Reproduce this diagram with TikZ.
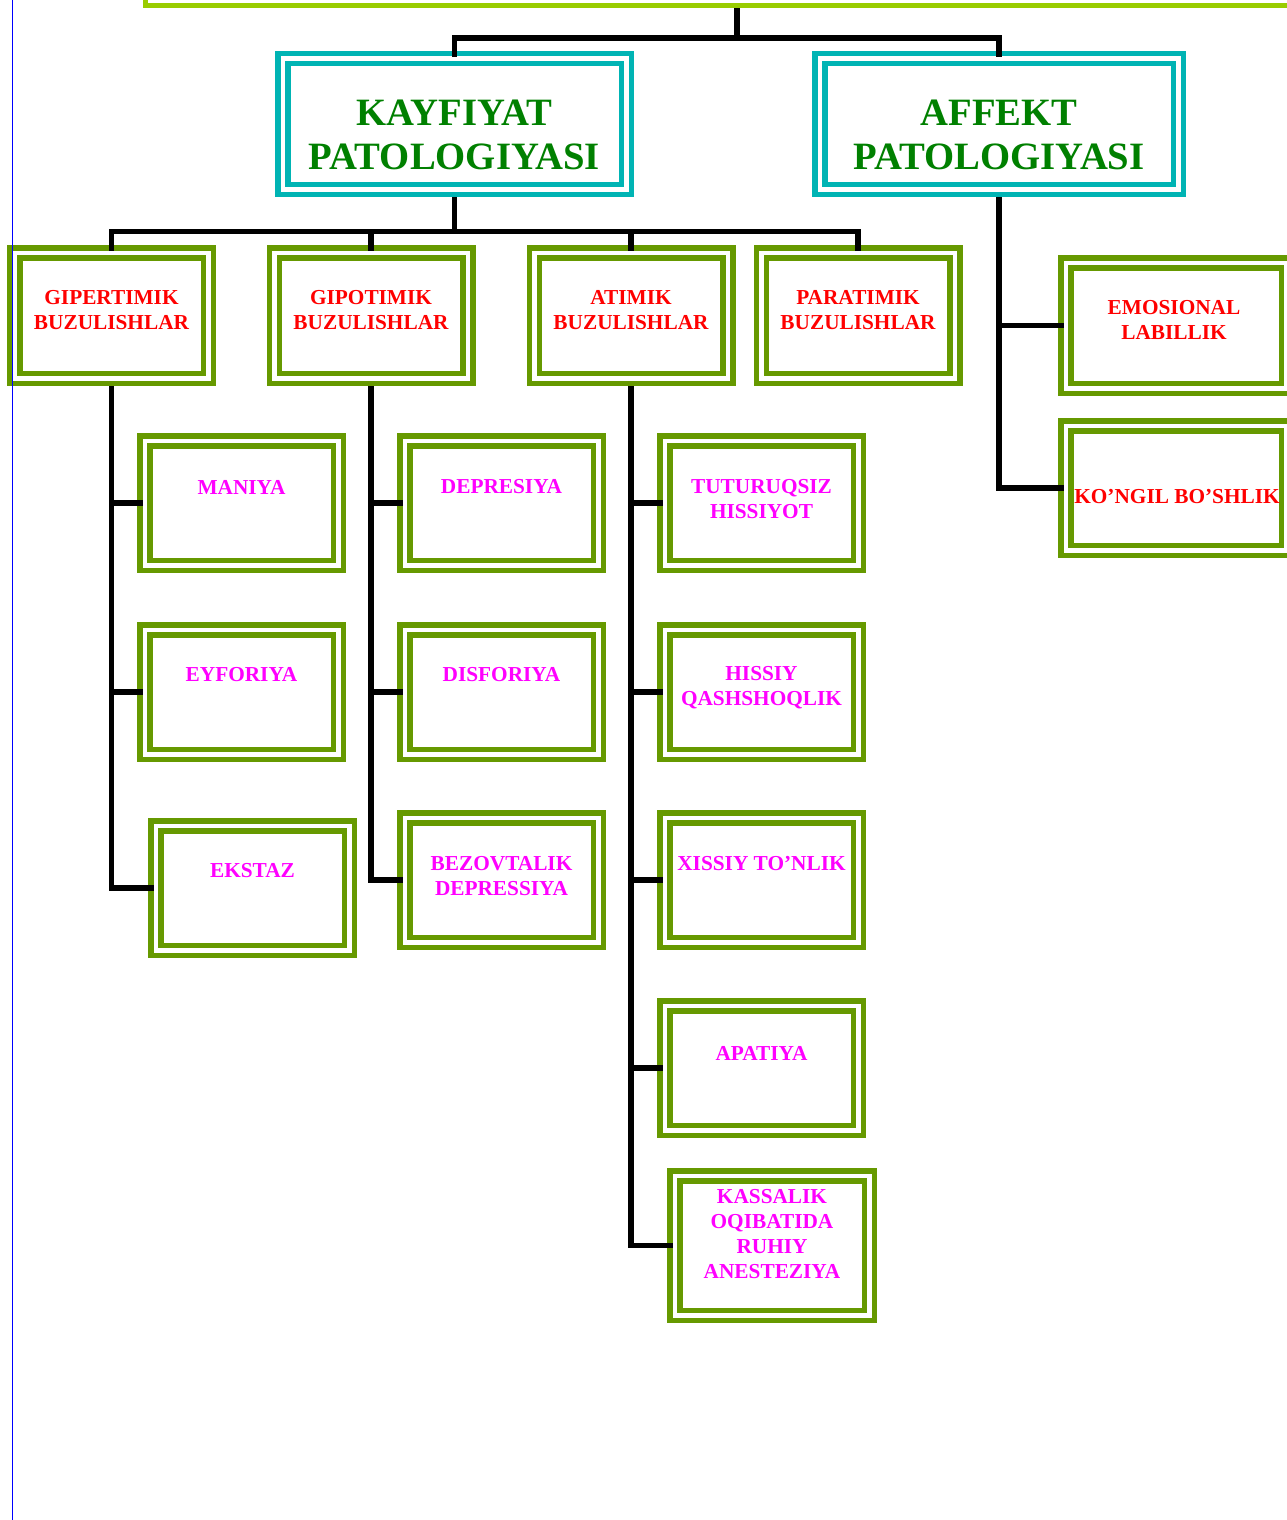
\documentclass[tikz,border=0pt]{standalone}
\usepackage{fontspec}
\setmainfont{Liberation Serif}
\usetikzlibrary{calc}

\definecolor{limeline}{RGB}{153,204,0}
\definecolor{tealframe}{RGB}{0,180,180}
\definecolor{olivebox}{RGB}{102,153,0}
\definecolor{headgreen}{RGB}{0,128,0}
\definecolor{marginblue}{RGB}{0,0,255}
\definecolor{grouptext}{RGB}{255,0,0}
\definecolor{leaftext}{RGB}{255,0,255}

\tikzset{
  frame/.style={draw=olivebox, line width=5.5pt, double=white, double distance=4.5pt,
    outer sep=7.75pt, inner sep=0pt, minimum width=193.5pt, minimum height=124.5pt},
  groupframe/.style={frame, minimum height=125.5pt},
  headframe/.style={frame, draw=tealframe, minimum width=343.5pt, minimum height=130.5pt},
  conn/.style={draw=black, line width=5.5pt, shorten >=-6pt},
  headtxt/.style={font=\fontsize{38.7}{44}\selectfont\bfseries, text=headgreen, align=center, inner sep=0pt},
  grouptxt/.style={font=\fontsize{21.3}{25.5}\selectfont\bfseries, text=grouptext, align=center, inner sep=0pt},
  leaftxt/.style={grouptxt, text=leaftext, font=\fontsize{21.3}{24.7}\selectfont\bfseries},
}

\begin{document}
\begin{tikzpicture}[x=1pt,y=-1pt]
\useasboundingbox (0,0) rectangle (1287,1520);

% top frame, mostly above the page
\node[draw=limeline, line width=5pt, inner sep=0pt, minimum width=1184pt, minimum height=205.8pt] (root) at (737,-97.1) {};

% heading boxes
\node[headframe] (kay) at (454.5,124) {};
\node[headframe, minimum width=358.5pt] (aff) at (999,124) {};
\node[headtxt] (kayt) at ($(kay.north)+(0,84)$) {KAYFIYAT\\PATOLOGIYASI};
\node[headtxt] (afft) at ($(aff.north)+(0,84)$) {AFFEKT\\PATOLOGIYASI};

% group boxes
\node[groupframe] (gip) at (111.5,315.5) {};
\node[groupframe] (gipo) at (371,315.5) {};
\node[groupframe] (ati) at (631,315.5) {};
\node[groupframe] (para) at (858,315.5) {};
\node[grouptxt] (gipt) at ($(gip.north)+(0,65)$) {GIPERTIMIK\\BUZULISHLAR};
\node[grouptxt] (gipot) at ($(gipo.north)+(0,65)$) {GIPOTIMIK\\BUZULISHLAR};
\node[grouptxt] (atit) at ($(ati.north)+(0,65)$) {ATIMIK\\BUZULISHLAR};
\node[grouptxt] (parat) at ($(para.north)+(0,65)$) {PARATIMIK\\BUZULISHLAR};

% affect branch
\node[groupframe, minimum width=220.5pt] (emo) at (1176,325.5) {};
\node[frame, minimum width=220.5pt] (kon) at (1176,488) {};
\node[grouptxt] (emot) at ($(emo.north)+(-2,65)$) {EMOSIONAL\\LABILLIK};
\node[grouptxt] (kont) at ($(kon.north)+(1,79)$) {KO’NGIL BO’SHLIK};

% hyperthymic branch
\node[frame] (man) at (241.5,503) {};
\node[frame] (eyf) at (241.5,692) {};
\node[frame] (eks) at (252.5,888) {};
\node[leaftxt] (mant) at ($(man.north)+(0,54)$) {MANIYA};
\node[leaftxt] (eyft) at ($(eyf.north)+(0,53)$) {EYFORIYA};
\node[leaftxt] (ekst) at ($(eks.north)+(0,53)$) {EKSTAZ};

% hypothymic branch
\node[frame] (dep) at (501.5,503) {};
\node[frame] (dis) at (501.5,692) {};
\node[frame] (bez) at (501.5,880) {};
\node[leaftxt] (dept) at ($(dep.north)+(0,54)$) {DEPRESIYA};
\node[leaftxt] (dist) at ($(dis.north)+(0,53)$) {DISFORIYA};
\node[leaftxt] (bezt) at ($(bez.north)+(0,66)$) {BEZOVTALIK\\DEPRESSIYA};

% athymic branch
\node[frame] (tut) at (761.5,503) {};
\node[frame] (his) at (761.5,692) {};
\node[frame] (xis) at (761.5,880) {};
\node[frame] (apa) at (761.5,1068) {};
\node[frame, minimum width=194.5pt, minimum height=139.5pt] (kas) at (772,1245.5) {};
\node[leaftxt] (tutt) at ($(tut.north)+(0,66)$) {TUTURUQSIZ\\HISSIYOT};
\node[leaftxt] (hist) at ($(his.north)+(0,65.5)$) {HISSIY\\QASHSHOQLIK};
\node[leaftxt] (xist) at ($(xis.north)+(0,54)$) {XISSIY TO’NLIK};
\node[leaftxt] (apat) at ($(apa.north)+(0,55)$) {APATIYA};
\node[leaftxt] (kast) at ($(kas.north)+(0,66)$) {KASSALIK\\OQIBATIDA\\RUHIY\\ANESTEZIYA};

% connectors
\draw[conn] (root.south) -- ++(0,29.7) coordinate (rb) -| (kay.north);
\draw[conn] (rb) -| (aff.north);
\draw[conn] (kay.south) -- ++(0,34.5) coordinate (kb) -| (gip.north);
\draw[conn] (kb) -| (gipo.north);
\draw[conn] (kb) -| (ati.north);
\draw[conn] (kb) -| (para.north);

\draw[conn] (aff.south) |- (emo.west);
\draw[conn] (aff.south) |- (kon.west);

\draw[conn] (gip.south) |- (man.west);
\draw[conn] (gip.south) |- (eyf.west);
\draw[conn] (gip.south) |- (eks.west);

\draw[conn] (gipo.south) |- (dep.west);
\draw[conn] (gipo.south) |- (dis.west);
\draw[conn] (gipo.south) |- (bez.west);

\draw[conn] (ati.south) |- (tut.west);
\draw[conn] (ati.south) |- (his.west);
\draw[conn] (ati.south) |- (xis.west);
\draw[conn] (ati.south) |- (apa.west);
\draw[conn] (ati.south) |- (kas.west);

% margin rule
\draw[marginblue, line width=1.8pt] (12.5,0) -- (12.5,1520);
\end{tikzpicture}
\end{document}
